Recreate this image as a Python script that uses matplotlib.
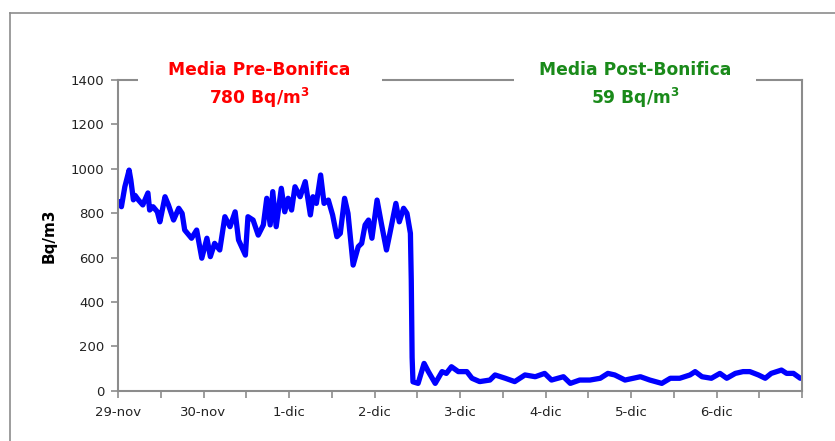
import matplotlib
matplotlib.use("Agg")
import matplotlib.pyplot as plt
from matplotlib.patches import Rectangle
from matplotlib.lines import Line2D

# time in days since 29-nov 00:00
days = [0.00, 0.02, 0.04, 0.08, 0.13, 0.15, 0.18, 0.20, 0.24, 0.29, 0.35, 0.37, 0.41,
        0.46, 0.49, 0.55, 0.59, 0.65, 0.71, 0.75, 0.78, 0.86, 0.92, 0.98, 1.04, 1.08,
        1.13, 1.19, 1.25, 1.31, 1.37, 1.41, 1.49, 1.52, 1.58, 1.64, 1.70, 1.74, 1.78,
        1.81, 1.85, 1.91, 1.95, 1.99, 2.03, 2.07, 2.13, 2.19, 2.25, 2.28, 2.32, 2.37,
        2.41, 2.46, 2.51, 2.56, 2.60, 2.65, 2.69, 2.75, 2.81, 2.85, 2.89, 2.93, 2.97,
        3.03, 3.08, 3.14, 3.18, 3.25, 3.29, 3.34, 3.38, 3.42, 3.43, 3.44, 3.45, 3.51,
        3.58, 3.63, 3.71, 3.79, 3.84, 3.90, 3.98, 4.08, 4.14, 4.23, 4.35, 4.41, 4.53,
        4.64, 4.76, 4.88, 4.99, 5.07, 5.21, 5.29, 5.40, 5.52, 5.64, 5.73, 5.81, 5.93,
        6.11, 6.22, 6.36, 6.46, 6.57, 6.69, 6.75, 6.83, 6.94, 7.04, 7.12, 7.22, 7.31,
        7.39, 7.49, 7.57, 7.64, 7.76, 7.82, 7.90, 7.98]
radon = [840, 852, 829, 919, 994, 950, 860, 880, 859, 837, 891, 814, 829,
         806, 761, 874, 837, 769, 822, 799, 724, 687, 724, 597, 687, 604,
         664, 634, 784, 739, 806, 679, 611, 784, 769, 701, 747, 867, 747,
         897, 739, 912, 806, 867, 814, 919, 874, 942, 792, 874, 844, 972,
         844, 859, 792, 694, 709, 867, 799, 566, 649, 664, 747, 769, 687,
         859, 754, 634, 709, 844, 761, 822, 799, 709, 500, 150, 40, 33,
         123, 86, 33, 86, 78, 108, 86, 86, 56, 41, 48, 71, 56,
         41, 71, 63, 78, 48, 63, 33, 48, 48, 56, 78, 71, 48,
         63, 48, 33, 56, 56, 71, 86, 63, 56, 78, 56, 78, 86,
         86, 71, 56, 78, 93, 78, 78, 56]

day_labels = ["29-nov", "30-nov", "1-dic", "2-dic", "3-dic", "4-dic", "5-dic", "6-dic"]
y_ticks = [0, 200, 400, 600, 800, 1000, 1200, 1400]

pre_title = "Media Pre-Bonifica"
pre_value = r"780 Bq/m$^{\mathbf{3}}$"
post_title = "Media Post-Bonifica"
post_value = r"59 Bq/m$^{\mathbf{3}}$"

W, H = 835, 441
fig = plt.figure(figsize=(W / 100, H / 100), dpi=100)
fig.patch.set_facecolor("white")

ax = fig.add_axes([118 / W, 1 - 390.7 / H, (802 - 118) / W, (390.7 - 80) / H])
ax.plot(days, radon, color="#0000ff", lw=3.8, solid_joinstyle="round", solid_capstyle="round")

ax.set_xlim(0, 8)
ax.set_ylim(0, 1400)
ax.set_xticks([i * 0.5 for i in range(17)])
ax.set_xticklabels([day_labels[i // 2] if i % 2 == 0 and i // 2 < len(day_labels) else "" for i in range(17)])
ax.set_yticks(y_ticks)
ax.set_yticklabels([str(v) for v in y_ticks])

gray = "#8c8c8c"
for s in ax.spines.values():
    s.set_color(gray)
    s.set_linewidth(1.5)
ax.tick_params(axis="both", direction="out", length=5, width=1.2, color=gray,
               labelsize=9.5, labelcolor="#222222")
ax.tick_params(axis="x", pad=6)
ax.tick_params(axis="y", pad=5)
ax.set_ylabel("Bq/m3", fontsize=11, fontweight="bold", labelpad=10)

# outer chart border
fig.add_artist(Line2D([10 / W, 10 / W], [0, 1 - 13 / H], transform=fig.transFigure, color=gray, lw=1.2))
fig.add_artist(Line2D([10 / W, 1], [1 - 13 / H, 1 - 13 / H], transform=fig.transFigure, color=gray, lw=1.2))

# white boxes covering the top border of the plot area
for x0, x1 in [(138, 382), (514, 756)]:
    fig.add_artist(Rectangle((x0 / W, 1 - 112 / H), (x1 - x0) / W, 58 / H,
                             transform=fig.transFigure, facecolor="white", edgecolor="none", zorder=10))

fs = 12.3
fig.text(259 / W, 1 - 70 / H, pre_title, color="#ff0000", fontsize=fs, fontweight="bold",
         ha="center", va="center", zorder=11)
fig.text(259 / W, 1 - 98 / H, pre_value, color="#ff0000", fontsize=fs, fontweight="bold",
         ha="center", va="center", zorder=11)
fig.text(635 / W, 1 - 70 / H, post_title, color="#1a8a1a", fontsize=fs, fontweight="bold",
         ha="center", va="center", zorder=11)
fig.text(635 / W, 1 - 98 / H, post_value, color="#1a8a1a", fontsize=fs, fontweight="bold",
         ha="center", va="center", zorder=11)

fig.savefig("out.png", dpi=100, facecolor="white")
